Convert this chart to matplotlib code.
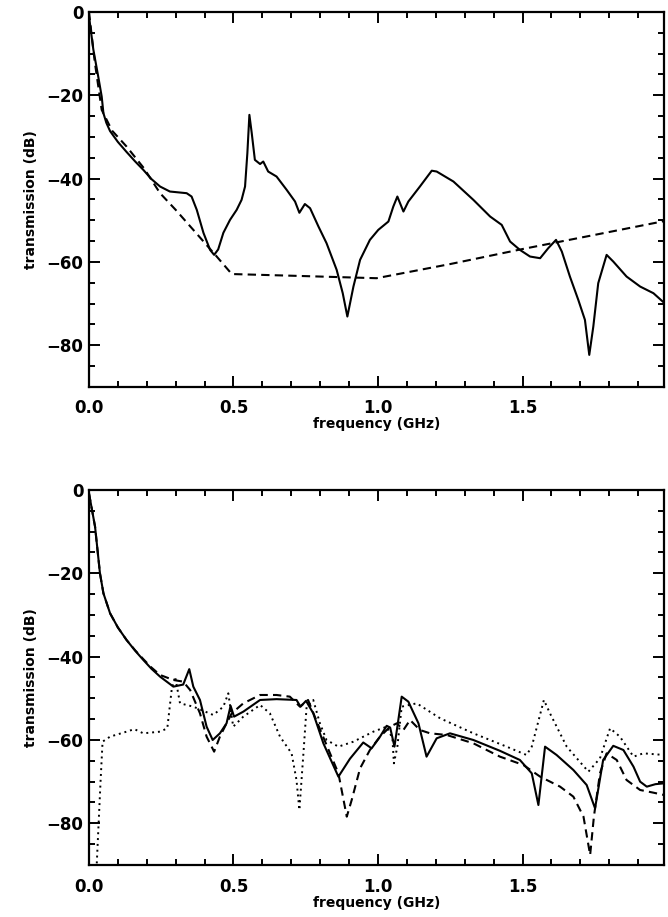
import matplotlib
matplotlib.use('Agg')
import matplotlib.pyplot as plt
from matplotlib.ticker import MultipleLocator

plt.rcParams['font.family'] = ['DejaVu Sans']
plt.rcParams['font.weight'] = 'bold'

# top panel: measured (solid) and model (dashed)
top_meas_f = [0.0, 0.015, 0.032, 0.044, 0.05, 0.06, 0.073, 0.1, 0.13, 0.16, 0.188, 0.216,
              0.246, 0.28, 0.338, 0.355,
              0.373, 0.396, 0.419, 0.433, 0.447, 0.465, 0.488, 0.511, 0.528, 0.54, 0.548,
              0.555, 0.563, 0.574, 0.592, 0.603, 0.62, 0.649, 0.684, 0.713, 0.728, 0.747,
              0.765, 0.794, 0.822, 0.857, 0.878, 0.894, 0.915, 0.938, 0.972, 1.001, 1.036,
              1.053, 1.067, 1.088, 1.105, 1.145, 1.186, 1.203, 1.261, 1.33, 1.388, 1.428,
              1.457, 1.491, 1.526, 1.561, 1.589, 1.616, 1.636, 1.664, 1.693, 1.716, 1.731,
              1.745, 1.762, 1.791, 1.814, 1.86, 1.907, 1.953, 1.99]
top_meas_db = [-1, -9, -15.5, -20.3, -24.3, -26.6, -28.6, -31.2, -33.6, -35.9, -37.9, -40.1,
               -41.9, -43.1, -43.5, -44.3,
               -47.5, -53, -57.1, -58.3, -57, -53, -49.9, -47.5, -45.1, -41.9, -33.9,
               -24.7, -29, -35.5, -36.5, -35.9, -38.3, -39.5, -42.7, -45.5, -48.2, -46.1,
               -47.1, -51.5, -55.5, -61.9, -67.5, -73.1, -65.9, -59.5, -54.7, -52.3, -50.3,
               -46.7, -44.3, -47.9, -45.5, -41.9, -38.1, -38.3, -40.7, -45.1, -49.1, -51.1,
               -55.1, -57.1, -58.7, -59.1, -56.7, -54.7, -57.5, -63.5, -69.1, -73.9, -82.3,
               -75.5, -65.1, -58.3, -59.9, -63.5, -65.9, -67.5, -69.8]

top_model_f = [0.0, 0.02, 0.044, 0.08, 0.13, 0.19, 0.246, 0.3, 0.361, 0.442, 0.494, 0.7,
               0.995, 1.25, 1.5, 1.75, 1.99]
top_model_db = [0, -12, -23.5, -28.5, -32.3, -37.5, -43.5, -47.5, -52.3, -58.7, -62.9, -63.3,
                -63.9, -60.5, -56.9, -53.5, -50.2]

# bottom panel: three measured configurations
bot_solid_f = [0.0, 0.021, 0.038, 0.05, 0.073, 0.1, 0.13, 0.16, 0.188, 0.216, 0.246, 0.292,
               0.326, 0.347, 0.361,
               0.384, 0.407, 0.428, 0.453, 0.476, 0.49, 0.502, 0.534, 0.592, 0.649, 0.718,
               0.732, 0.751, 0.776, 0.811, 0.863, 0.903, 0.949, 0.978, 1.007, 1.03, 1.042,
               1.057, 1.082, 1.105, 1.14, 1.168, 1.203, 1.249, 1.33, 1.422, 1.491, 1.532,
               1.555, 1.578, 1.618, 1.676, 1.722, 1.751, 1.779, 1.814, 1.849, 1.884, 1.907,
               1.93, 1.96, 1.99]
bot_solid_db = [-0.8, -8.8, -20, -24.8, -29.6, -33, -36, -38.6, -40.8, -42.9, -44.8, -47.2,
                -46.7, -43, -47.2,
                -50.4, -56.8, -60, -58.4, -56, -51.8, -54.4, -53.2, -50.4, -50.2, -50.4,
                -52, -50.6, -53.6, -60.8, -68.8, -64.5, -60.6, -62, -59.2, -56.6, -57,
                -61.6, -49.6, -50.8, -56, -64, -59.6, -58.4, -60, -62.6, -64.8, -68,
                -75.6, -61.6, -63.6, -67.2, -70.8, -76.4, -64.8, -61.4, -62.4, -66.4, -70,
                -71.2, -70.6, -70.4]

bot_dash_f = [0.0, 0.021, 0.038, 0.05, 0.073, 0.1, 0.13, 0.16, 0.188, 0.216, 0.246, 0.292,
              0.326, 0.35, 0.384,
              0.407, 0.433, 0.453, 0.476, 0.494, 0.534, 0.592, 0.649, 0.695, 0.73, 0.758,
              0.786, 0.834, 0.863, 0.892, 0.909, 0.938, 0.972, 1.007, 1.042, 1.065, 1.088,
              1.111, 1.145, 1.18, 1.238, 1.33, 1.422, 1.503, 1.561, 1.63, 1.676, 1.711,
              1.734, 1.747, 1.768, 1.791, 1.826, 1.86, 1.907, 1.95, 1.99]
bot_dash_db = [-0.8, -8.8, -20, -24.8, -29.6, -33, -36, -38.5, -40.6, -42.6, -44.4, -45.6,
               -46, -48, -53.6,
               -59.2, -62.8, -59.2, -56, -53.6, -51.2, -49.2, -49.2, -49.6, -52, -50.4,
               -55.2, -63.2, -68, -78.4, -74.4, -66.8, -62.4, -59.2, -56.8, -56, -57.6,
               -55.2, -57.6, -58.4, -58.8, -60.8, -64, -66, -68.8, -71.2, -73.6, -78.4,
               -87.6, -78.4, -68, -63.2, -64.8, -69.6, -72, -72.6, -73.2]

bot_dot_f = [0.027, 0.04, 0.047, 0.073, 0.13, 0.157, 0.188, 0.246, 0.271, 0.286, 0.298, 0.315,
             0.361, 0.43, 0.465, 0.482, 0.499, 0.534, 0.592, 0.626, 0.661, 0.701, 0.718,
             0.728, 0.742, 0.753, 0.776, 0.799, 0.822, 0.863, 0.915, 0.984, 1.03, 1.05,
             1.055, 1.067, 1.082, 1.134, 1.215, 1.33, 1.445, 1.514, 1.532, 1.574, 1.595,
             1.653, 1.728, 1.768, 1.803, 1.837, 1.884, 1.918, 1.99]
bot_dot_db = [-89.6, -70, -60.4, -59.2, -58, -57.4, -58.4, -58, -57.2, -48, -44.8, -51.2,
              -52, -54, -52, -48.8, -56.8, -54.4, -51.6, -53.6, -59.2, -63.2, -69.6,
              -76.8, -63.2, -52, -50.4, -56, -60, -61.6, -60.4, -58, -56.8, -59.6,
              -65.6, -61.6, -52, -51.2, -54.8, -58.4, -61.6, -63.6, -61.6, -50.4, -53.6,
              -61.6, -67.6, -64.4, -57.2, -59.2, -64, -63.2, -63.6]


def style_axes(ax):
    ax.set_xlim(0, 1.99)
    ax.set_ylim(-90, 0)
    ax.xaxis.set_major_locator(MultipleLocator(0.5))
    ax.xaxis.set_minor_locator(MultipleLocator(0.1))
    ax.yaxis.set_major_locator(MultipleLocator(20))
    ax.yaxis.set_minor_locator(MultipleLocator(5))
    ax.tick_params(which='both', direction='in', top=True, right=True, width=1.4,
                   labelsize=12)
    ax.tick_params(which='major', length=8)
    ax.tick_params(which='minor', length=4)
    ax.tick_params(axis='x', pad=9)
    ax.tick_params(axis='y', pad=4)
    ax.xaxis.set_major_formatter(plt.FuncFormatter(lambda v, p: f'{v:.1f}'))
    for s in ax.spines.values():
        s.set_linewidth(1.6)
    ax.set_xlabel('frequency (GHz)', fontsize=10, fontweight='bold', labelpad=0)
    ax.set_ylabel('transmission (dB)', fontsize=10, fontweight='bold', labelpad=6)


fig = plt.figure(figsize=(6.68, 9.17), dpi=100)
ax1 = fig.add_axes([0.1332, 0.578, 0.861, 0.409])
ax2 = fig.add_axes([0.1332, 0.0567, 0.861, 0.409])

ax1.plot(top_meas_f, top_meas_db, color='black', lw=1.5)
ax1.plot(top_model_f, top_model_db, color='black', lw=1.5, dashes=(4, 2.5))
style_axes(ax1)

ax2.plot(bot_solid_f, bot_solid_db, color='black', lw=1.5)
ax2.plot(bot_dash_f, bot_dash_db, color='black', lw=1.5, dashes=(4, 2.5))
ax2.plot(bot_dot_f, bot_dot_db, color='black', lw=1.4, dashes=(1, 2))
style_axes(ax2)

fig.savefig('out.png', dpi=100)
